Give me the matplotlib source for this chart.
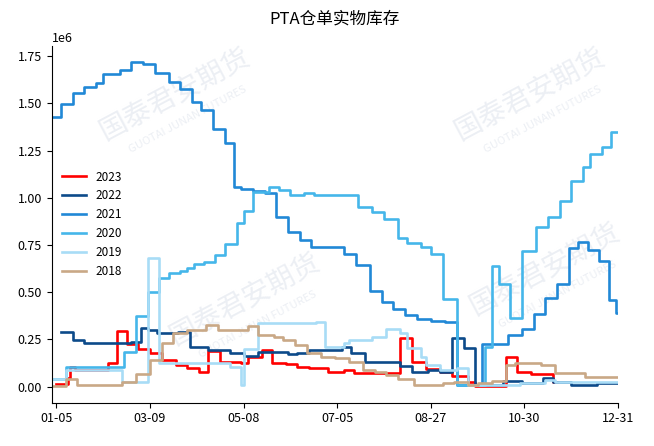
import numpy as np
import matplotlib
matplotlib.use("Agg")
import matplotlib.pyplot as plt

plt.rcParams['font.family'] = ['Noto Sans CJK SC', 'DejaVu Sans']
plt.rcParams['axes.unicode_minus'] = False

# ---- data (x = trading-day index, values in thousand tons) ----
tick_pos = [2, 42, 82, 122, 162, 202, 242]
tick_labels = ['01-05', '03-09', '05-08', '07-05', '08-27', '10-30', '12-31']

x_2023 = [2, 7, 8, 10, 24, 28, 32, 37, 42, 47, 53, 58, 63, 67, 72, 81, 84, 90, 94, 100,
          105, 110, 118, 125, 129, 149, 154, 160, 166, 171, 178, 181, 194, 199, 205, 214, 216]
v_2023 = [12, 45, 102, 85, 123, 292, 225, 199, 176, 140, 114, 96, 79, 188, 131, 123, 154, 195, 127, 117,
          106, 96, 77, 87, 70, 255, 130, 93, 78, 58, 25, 5, 158, 77, 64, 25, 25]

x_2022 = [4, 9, 14, 34, 38, 41, 45, 54, 59, 67, 76, 82, 88, 101, 105, 110, 124, 128, 134, 149,
          154, 161, 166, 171, 176, 181, 193, 201, 210, 214, 222, 233, 242]
v_2022 = [290, 249, 229, 237, 311, 299, 282, 290, 207, 196, 179, 162, 184, 172, 179, 191, 211, 175, 131, 111,
          77, 87, 77, 255, 202, 8, 29, 17, 43, 24, 8, 16, 16]

x_2021 = [0, 4, 9, 14, 19, 22, 29, 34, 39, 44, 50, 55, 60, 64, 69, 74, 78, 81, 86, 91,
          96, 101, 106, 111, 125, 130, 136, 141, 146, 151, 156, 162, 168, 173, 184, 195, 201, 206, 211, 216,
          221, 225, 229, 234, 238, 241, 242]
v_2021 = [1426, 1495, 1556, 1588, 1611, 1654, 1680, 1719, 1707, 1661, 1613, 1577, 1509, 1463, 1364, 1288, 1058, 1046, 1036, 1023,
          899, 820, 776, 741, 702, 644, 507, 449, 411, 379, 356, 349, 342, 8, 225, 273, 305, 384, 469, 543,
          734, 765, 723, 665, 458, 389, 389]

x_2020 = [0, 6, 31, 36, 41, 46, 50, 55, 58, 61, 65, 70, 74, 79, 82, 86, 93, 97, 102, 108,
          112, 131, 137, 142, 148, 152, 158, 162, 167, 173, 185, 188, 191, 196, 201, 207, 212, 217, 222, 227,
          230, 235, 239, 242]
v_2020 = [40, 105, 184, 373, 502, 573, 600, 613, 629, 647, 661, 697, 755, 864, 931, 1032, 1058, 1041, 1014, 1023,
          1016, 952, 926, 887, 787, 760, 741, 702, 466, 8, 211, 638, 543, 361, 719, 846, 899, 984, 1089, 1161,
          1230, 1270, 1350, 1350]

x_2019 = [0, 6, 30, 41, 46, 76, 81, 82, 88, 113, 117, 125, 127, 137, 143, 149, 152, 158, 160, 166,
          173, 178, 200, 211, 215, 242]
v_2019 = [40, 90, 24, 679, 123, 105, 8, 199, 335, 343, 211, 230, 246, 264, 303, 282, 202, 158, 114, 87,
          96, 8, 17, 35, 24, 24]

x_2018 = [0, 6, 11, 30, 36, 42, 47, 52, 58, 66, 71, 84, 88, 95, 99, 104, 109, 115, 121, 127,
          133, 138, 143, 148, 155, 167, 172, 178, 182, 188, 194, 198, 209, 215, 228, 242]
v_2018 = [5, 40, 8, 25, 66, 140, 229, 282, 299, 327, 302, 320, 273, 261, 246, 220, 176, 158, 149, 131,
          87, 78, 61, 40, 8, 17, 25, 8, 19, 29, 114, 123, 114, 73, 50, 50]

years = ['2023', '2022', '2021', '2020', '2019', '2018']
xs = [x_2023, x_2022, x_2021, x_2020, x_2019, x_2018]
vs = [v_2023, v_2022, v_2021, v_2020, v_2019, v_2018]
colors = ['#ff0000', '#0c4a8a', '#2188d6', '#45b6ea', '#a8dcf6', '#c9a886']

fig = plt.figure(figsize=(6.54, 4.46), dpi=100)
ax = fig.add_axes([0.079, 0.097, 0.866, 0.800])
ax.set_zorder(2)
ax.patch.set_alpha(0)

# faint watermark (kept fully inside the figure, behind the chart)
wm = [(175, 95), (245, 300), (530, 95), (545, 270)]
for (px, py) in wm:
    fig.text(px / 654, 1 - py / 446, '国泰君安期货', fontsize=20, color='#eceff4',
             rotation=28, ha='center', va='center', zorder=0)
    fig.text(px / 654 + 0.02, 1 - py / 446 - 0.055, 'GUOTAI JUNAN FUTURES', fontsize=8,
             color='#eceff4', rotation=28, ha='center', va='center', zorder=0)

for yr, x, v, c in zip(years, xs, vs, colors):
    ax.step(x, np.array(v) * 1000, where='post', color=c, lw=1.9, label=yr)

ax.set_xlim(0, 242)
ax.set_ylim(-86000, 1805000)
ax.set_xticks(tick_pos)
ax.set_xticklabels(tick_labels)
ax.set_yticks(np.arange(0, 1.76e6, 0.25e6))
ax.tick_params(labelsize=9)
ax.yaxis.get_offset_text().set_fontsize(9)
ax.spines['top'].set_visible(False)
ax.spines['right'].set_visible(False)
ax.set_title('PTA仓单实物库存', fontsize=12, pad=16)
ax.legend(loc='center left', bbox_to_anchor=(0.0, 0.5), frameon=False, fontsize=8.5)

fig.savefig('out.png', dpi=100)
